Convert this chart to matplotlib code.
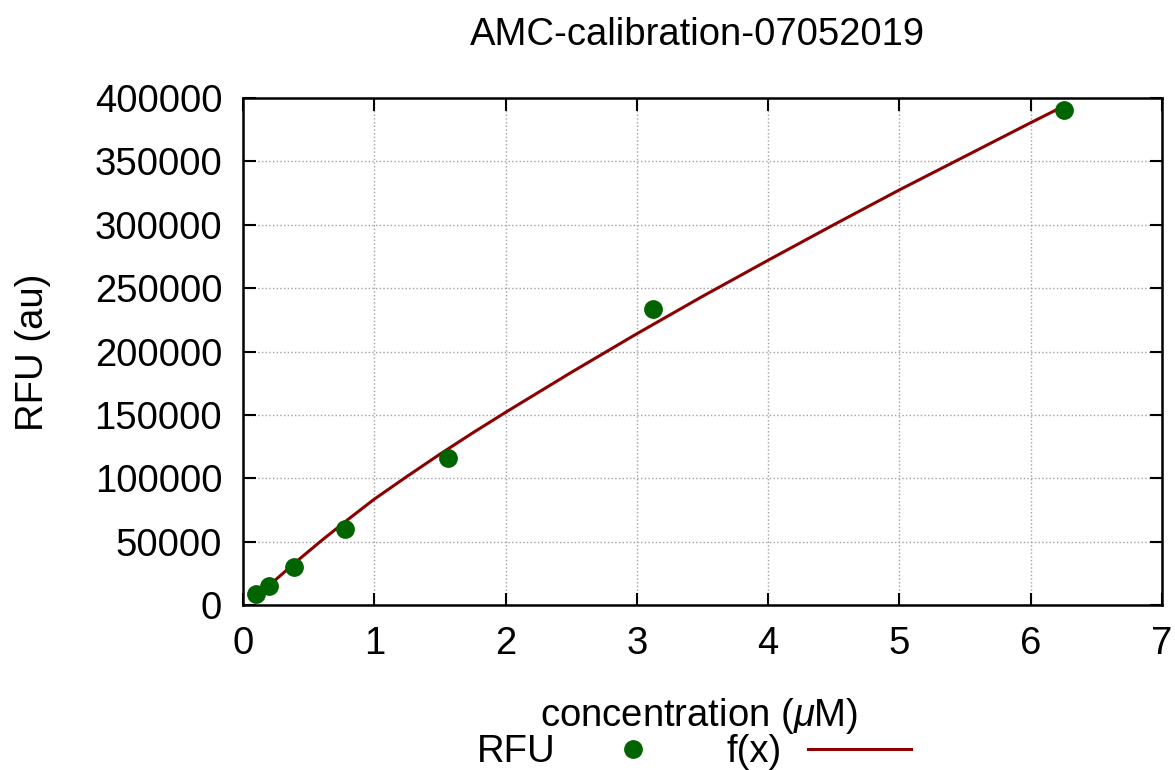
import matplotlib
matplotlib.use("Agg")
import matplotlib.pyplot as plt

plt.rcParams['font.family'] = ['Liberation Sans', 'DejaVu Sans']
plt.rcParams['mathtext.fontset'] = 'custom'
plt.rcParams['mathtext.rm'] = 'Liberation Sans'
plt.rcParams['mathtext.it'] = 'Liberation Sans:italic'

title = "AMC-calibration-07052019"
x_label = r"concentration ($\mu$M)"
y_label = "RFU (au)"

conc = [0.0977, 0.195, 0.39, 0.78, 1.5625, 3.125, 6.25]
rfu = [8400, 15000, 29700, 59600, 116300, 233500, 390500]

fit_x = [0.1, 0.2, 0.4, 0.6, 0.8, 1.0, 1.25, 1.5, 1.75, 2.0, 2.5, 3.0,
         3.5, 4.0, 4.5, 5.0, 5.5, 6.0, 6.25]
fit_y = [6000, 15500, 33700, 51000, 67500, 83500, 101500, 119000, 135800,
         152000, 183500, 214000, 243500, 272000, 300000, 327500, 354000,
         380500, 393500]

x_ticks = [0, 1, 2, 3, 4, 5, 6, 7]
y_ticks = [0, 50000, 100000, 150000, 200000, 250000, 300000, 350000, 400000]

FS = 27.5

fig = plt.figure(figsize=(11.75, 7.7), dpi=100)
ax = fig.add_axes([243/1175, 1-605/770, (1162-243)/1175, (605-98)/770])

ax.plot(fit_x, fit_y, color='#8b0000', lw=2.2, label='f(x)', zorder=3)
ax.plot(conc, rfu, 'o', color='#006400', ms=12.5, label='RFU', zorder=4, ls='none')

ax.set_xlim(0, 7)
ax.set_ylim(0, 400000)
ax.set_xticks(x_ticks)
ax.set_yticks(y_ticks)
ax.set_xticklabels([str(t) for t in x_ticks])
ax.set_yticklabels([str(t) for t in y_ticks])
ax.tick_params(direction='in', length=9, width=1.5, labelsize=FS,
               top=True, right=True)
ax.tick_params(axis='y', pad=15)
ax.tick_params(axis='x', pad=15)
for s in ax.spines.values():
    s.set_linewidth(1.8)
ax.grid(True, ls=':', color='#a0a0a0', lw=1)
ax.set_axisbelow(True)

fig.text(697/1175, 1-35/770, title, ha='center', va='center', fontsize=FS)
fig.text(33/1175, 1-352/770, y_label, ha='center', va='center', fontsize=FS,
         rotation=90)
fig.text(699/1175, 1-716/770, x_label, ha='center', va='center', fontsize=FS)

h_line, h_pts = ax.get_legend_handles_labels()[0]
leg = fig.legend([h_pts, h_line], ['RFU', 'f(x)'], loc='center',
                 bbox_to_anchor=(694/1175, 1-752/770), ncol=2, frameon=False,
                 markerfirst=False, fontsize=FS, handlelength=2.7,
                 handletextpad=0.67, columnspacing=1.1, numpoints=1,
                 borderpad=0.2)

fig.savefig('out.png', dpi=100)
